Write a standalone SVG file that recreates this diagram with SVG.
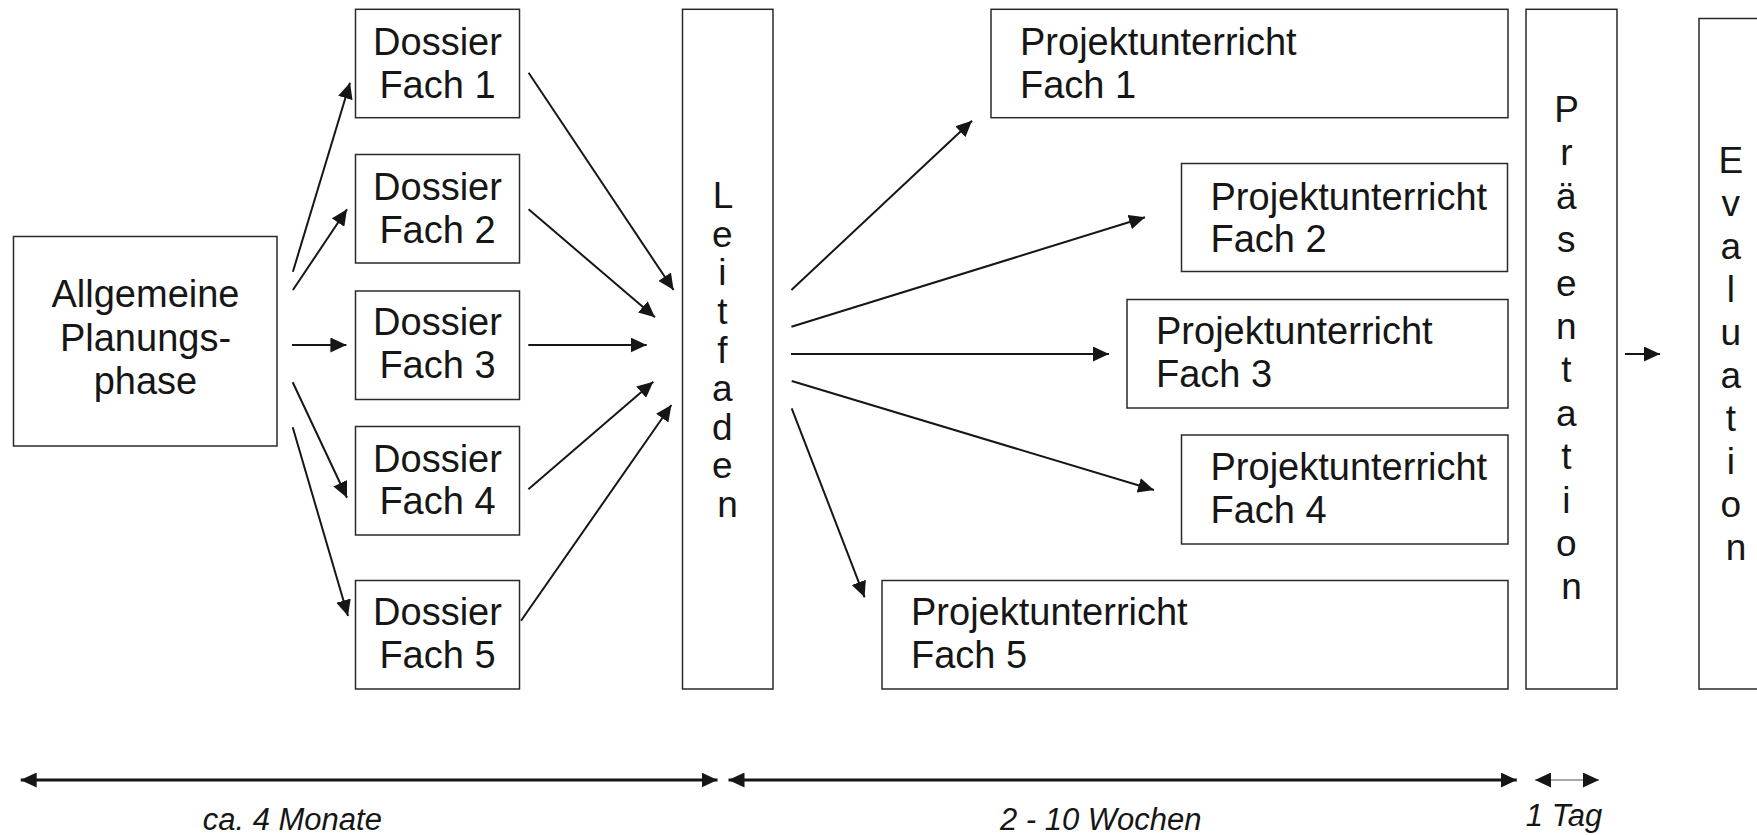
<svg xmlns="http://www.w3.org/2000/svg" width="1757" height="835" viewBox="0 0 1757 835">
<style>
.box{fill:#fff;stroke:#2a2a2a;stroke-width:1.5}
.t{font-family:"Liberation Sans",Arial,sans-serif;font-size:38px;fill:#161616}
.c{text-anchor:middle}
.v{font-family:"Liberation Sans",Arial,sans-serif;font-size:37px;fill:#161616;text-anchor:middle}
.lab{font-family:"Liberation Sans",Arial,sans-serif;font-size:31px;font-style:italic;fill:#161616;text-anchor:middle}
.con{stroke:#161616;stroke-width:2;fill:none;marker-end:url(#ah)}
.tl{stroke:#161616;stroke-width:3;fill:none;marker-start:url(#ah);marker-end:url(#ah)}
.tl2{stroke:#555;stroke-width:1.2;fill:none;marker-start:url(#ah);marker-end:url(#ah)}
</style>
<defs>
<marker id="ah" viewBox="0 0 16 15" refX="16" refY="7.5" markerWidth="16" markerHeight="15" markerUnits="userSpaceOnUse" orient="auto-start-reverse">
<path d="M0,0 L16,7.5 L0,15 Z" fill="#161616"/>
</marker>
</defs>
<rect width="1757" height="835" fill="#fff"/>

<g id="allgemeine">
<rect class="box" x="13.5" y="236.5" width="263.5" height="209.5"/>
<text class="t c" x="145.5" y="307">Allgemeine</text>
<text class="t c" x="145.5" y="351">Planungs-</text>
<text class="t c" x="145.5" y="394">phase</text>
</g>

<g id="dossier1">
<rect class="box" x="355.5" y="9.3" width="164" height="108.4"/>
<text class="t c" x="437.5" y="55">Dossier</text>
<text class="t c" x="437.5" y="98">Fach 1</text>
</g>
<g id="dossier2">
<rect class="box" x="355.5" y="154.5" width="164" height="108.5"/>
<text class="t c" x="437.5" y="200">Dossier</text>
<text class="t c" x="437.5" y="243">Fach 2</text>
</g>
<g id="dossier3">
<rect class="box" x="355.5" y="291" width="164" height="108.5"/>
<text class="t c" x="437.5" y="335">Dossier</text>
<text class="t c" x="437.5" y="378">Fach 3</text>
</g>
<g id="dossier4">
<rect class="box" x="355.5" y="426.5" width="164" height="108.5"/>
<text class="t c" x="437.5" y="471.5">Dossier</text>
<text class="t c" x="437.5" y="513.5">Fach 4</text>
</g>
<g id="dossier5">
<rect class="box" x="355.5" y="580.5" width="164" height="108.5"/>
<text class="t c" x="437.5" y="625">Dossier</text>
<text class="t c" x="437.5" y="668">Fach 5</text>
</g>

<g id="leitfaden">
<rect class="box" x="682.5" y="9.3" width="90.5" height="679.7"/>
<text class="v">
<tspan x="727.5" y="208.3">L</tspan>
<tspan x="727.5" y="246.9">e</tspan>
<tspan x="727.5" y="285.4">i</tspan>
<tspan x="727.5" y="324">t</tspan>
<tspan x="727.5" y="362.5">f</tspan>
<tspan x="727.5" y="401">a</tspan>
<tspan x="727.5" y="439.6">d</tspan>
<tspan x="727.5" y="478.2">e</tspan>
<tspan x="727.5" y="516.7">n</tspan>
</text>
</g>

<g id="pu1">
<rect class="box" x="991" y="9.3" width="517" height="108.4"/>
<text class="t" x="1020" y="55">Projektunterricht</text>
<text class="t" x="1020" y="98">Fach 1</text>
</g>
<g id="pu2">
<rect class="box" x="1181.5" y="163.5" width="326" height="108"/>
<text class="t" x="1210.5" y="210">Projektunterricht</text>
<text class="t" x="1210.5" y="252">Fach 2</text>
</g>
<g id="pu3">
<rect class="box" x="1127" y="299.5" width="381" height="108.5"/>
<text class="t" x="1156" y="343.5">Projektunterricht</text>
<text class="t" x="1156" y="386.5">Fach 3</text>
</g>
<g id="pu4">
<rect class="box" x="1181.5" y="435" width="326.5" height="109"/>
<text class="t" x="1210.5" y="480">Projektunterricht</text>
<text class="t" x="1210.5" y="523">Fach 4</text>
</g>
<g id="pu5">
<rect class="box" x="882" y="580.5" width="626" height="108.5"/>
<text class="t" x="911" y="625">Projektunterricht</text>
<text class="t" x="911" y="668">Fach 5</text>
</g>

<g id="praesentation">
<rect class="box" x="1526" y="9.3" width="91" height="679.7"/>
<text class="v">
<tspan x="1571.5" y="122">P</tspan>
<tspan x="1571.5" y="165.4">r</tspan>
<tspan x="1571.5" y="208.8">ä</tspan>
<tspan x="1571.5" y="252.2">s</tspan>
<tspan x="1571.5" y="295.6">e</tspan>
<tspan x="1571.5" y="339">n</tspan>
<tspan x="1571.5" y="382.4">t</tspan>
<tspan x="1571.5" y="425.8">a</tspan>
<tspan x="1571.5" y="469.2">t</tspan>
<tspan x="1571.5" y="512.6">i</tspan>
<tspan x="1571.5" y="556">o</tspan>
<tspan x="1571.5" y="599.4">n</tspan>
</text>
</g>

<g id="evaluation">
<rect class="box" x="1699" y="18.5" width="80" height="670.5"/>
<text class="v">
<tspan x="1736" y="173.3">E</tspan>
<tspan x="1736" y="216.3">v</tspan>
<tspan x="1736" y="259.3">a</tspan>
<tspan x="1736" y="302.3">l</tspan>
<tspan x="1736" y="345.3">u</tspan>
<tspan x="1736" y="388.3">a</tspan>
<tspan x="1736" y="431.3">t</tspan>
<tspan x="1736" y="474.3">i</tspan>
<tspan x="1736" y="517.3">o</tspan>
<tspan x="1736" y="560.3">n</tspan>
</text>
</g>

<g id="connectors">
<line class="con" x1="292.9" y1="271.7" x2="350" y2="82.7"/>
<line class="con" x1="292.9" y1="290" x2="347" y2="209.3"/>
<line class="con" x1="292" y1="345" x2="346.4" y2="345"/>
<line class="con" x1="292.7" y1="382.3" x2="347" y2="497.7"/>
<line class="con" x1="292.7" y1="427.3" x2="348" y2="616"/>

<line class="con" x1="528.6" y1="72.7" x2="673.6" y2="290"/>
<line class="con" x1="528.6" y1="209.3" x2="655" y2="317.3"/>
<line class="con" x1="528.3" y1="345" x2="646.7" y2="345"/>
<line class="con" x1="528.4" y1="489.3" x2="653.3" y2="381.7"/>
<line class="con" x1="521" y1="620.7" x2="671.4" y2="405"/>

<line class="con" x1="791.4" y1="290" x2="972" y2="120.7"/>
<line class="con" x1="791.4" y1="326.7" x2="1145" y2="217.3"/>
<line class="con" x1="791" y1="354" x2="1109" y2="354"/>
<line class="con" x1="791.7" y1="381" x2="1154" y2="490"/>
<line class="con" x1="791.7" y1="408.3" x2="864.6" y2="597.3"/>

<line class="con" x1="1625" y1="354" x2="1660" y2="354"/>

<line class="tl" x1="20.7" y1="780" x2="717.5" y2="780"/>
<line class="tl" x1="728.5" y1="780" x2="1516.8" y2="780"/>
<line class="tl2" x1="1535" y1="780" x2="1599" y2="780"/>
</g>

<text class="lab" x="292.3" y="830">ca. 4 Monate</text>
<text class="lab" x="1100.7" y="830">2 - 10 Wochen</text>
<text class="lab" x="1564" y="826">1 Tag</text>
</svg>
